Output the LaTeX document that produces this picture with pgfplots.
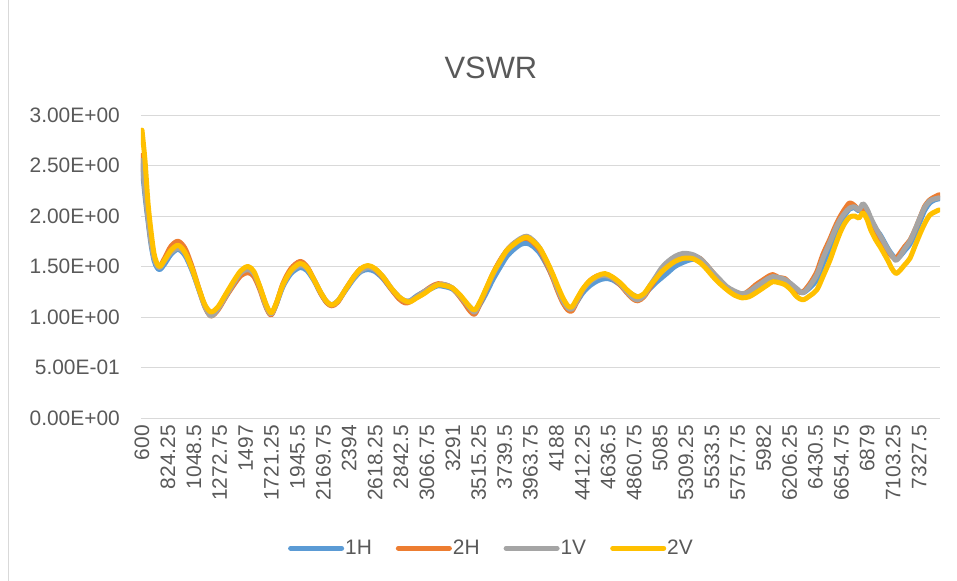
\documentclass[border=0pt]{standalone}
\usepackage{fontspec}
\setmainfont{Liberation Sans}
\usepackage{pgfplots}
\pgfplotsset{compat=1.18}
\definecolor{cA}{RGB}{91,155,213}
\definecolor{cB}{RGB}{237,125,49}
\definecolor{cC}{RGB}{165,165,165}
\definecolor{cD}{RGB}{255,192,0}
\definecolor{gridgray}{RGB}{217,217,217}
\definecolor{textgray}{RGB}{89,89,89}
\begin{document}
\begin{tikzpicture}[x=1bp,y=1bp]
\begin{axis}[
  at={(0,0)}, anchor=south west, scale only axis,
  width=799bp, height=303bp,
  xmin=591.375, xmax=7508.625, ymin=0, ymax=3,
  axis line style={draw=none},
  tick style={draw=none},
  major tick length=0pt,
  ymajorgrids, grid style={draw=gridgray, line width=1bp},
  ytick={0,0.5,1,1.5,2,2.5,3},
  yticklabels={0.00E+00,5.00E-01,1.00E+00,1.50E+00,2.00E+00,2.50E+00,3.00E+00},
  xtick={600,824.25,1048.5,1272.75,1497,1721.25,1945.5,2169.75,2394,2618.25,2842.5,3066.75,3291,3515.25,3739.5,3963.75,4188,4412.25,4636.5,4860.75,5085,5309.25,5533.5,5757.75,5982,6206.25,6430.5,6654.75,6879,7103.25,7327.5},
  xticklabels={600,824.25,1048.5,1272.75,1497,1721.25,1945.5,2169.75,2394,2618.25,2842.5,3066.75,3291,3515.25,3739.5,3963.75,4188,4412.25,4636.5,4860.75,5085,5309.25,5533.5,5757.75,5982,6206.25,6430.5,6654.75,6879,7103.25,7327.5},
  ticklabel style={font=\fontsize{21}{24}\selectfont, text=textgray},
  yticklabel style={anchor=east, inner sep=0pt, xshift=-21bp},
  xticklabel style={anchor=east, inner sep=0pt, yshift=-7bp, rotate=90},
  title={VSWR},
  title style={at={(0.438,1)}, anchor=center, yshift=41bp, font=\fontsize{31}{36}\selectfont, text=textgray},
  legend columns=4,
  legend style={at={(0.438,-0.43)}, anchor=center, draw=none, fill=none,
    font=\fontsize{21}{24}\selectfont, text=textgray,
    /tikz/every even column/.append style={column sep=23bp},
    inner sep=0pt, nodes={inner sep=1bp}},
  legend image code/.code={\draw[#1, line width=5bp, line cap=round] (0bp,0bp) -- (51bp,0bp);},
  every axis plot/.append style={line width=5bp, line join=round, line cap=round, smooth, tension=0.5},
]
\addplot[cA] coordinates {
(600,2.50) (626,2.20) (652,1.95) (678,1.72) (704,1.56) (730,1.49) (756,1.47) (799,1.53) (851,1.62) (912,1.67) (972,1.61) (1033,1.46) (1093,1.27) (1145,1.11) (1197,1.04) (1258,1.09) (1327,1.21) (1396,1.34) (1457,1.43) (1518,1.46) (1569,1.42) (1621,1.29) (1673,1.12) (1717,1.03) (1760,1.12) (1820,1.30) (1890,1.43) (1968,1.49) (2028,1.46) (2089,1.36) (2149,1.23) (2201,1.14) (2245,1.12) (2297,1.16) (2366,1.27) (2435,1.38) (2496,1.45) (2556,1.47) (2617,1.45) (2686,1.38) (2755,1.28) (2825,1.19) (2877,1.16) (2920,1.16) (2980,1.21) (3041,1.25) (3102,1.28) (3162,1.31) (3223,1.30) (3283,1.28) (3344,1.22) (3396,1.15) (3439,1.10) (3482,1.06) (3534,1.14) (3586,1.25) (3638,1.37) (3699,1.49) (3759,1.60) (3820,1.67) (3881,1.72) (3933,1.73) (3985,1.70) (4045,1.63) (4106,1.51) (4158,1.39) (4201,1.27) (4244,1.17) (4287,1.10) (4322,1.09) (4365,1.15) (4417,1.24) (4478,1.31) (4547,1.36) (4608,1.38) (4668,1.37) (4738,1.32) (4798,1.26) (4850,1.22) (4893,1.20) (4945,1.22) (4997,1.28) (5049,1.34) (5101,1.39) (5153,1.44) (5214,1.50) (5283,1.54) (5361,1.57) (5430,1.56) (5491,1.49) (5543,1.42) (5603,1.35) (5664,1.29) (5724,1.24) (5794,1.21) (5854,1.23) (5915,1.28) (5967,1.32) (6019,1.36) (6062,1.39) (6114,1.38) (6166,1.36) (6218,1.31) (6270,1.26) (6322,1.24) (6382,1.29) (6443,1.37) (6495,1.52) (6555,1.68) (6599,1.82) (6642,1.93) (6685,2.01) (6728,2.07) (6772,2.08) (6806,2.05) (6841,2.10) (6876,2.06) (6910,1.96) (6954,1.87) (6988,1.82) (7023,1.75) (7057,1.68) (7092,1.62) (7127,1.58) (7161,1.60) (7205,1.66) (7248,1.72) (7291,1.82) (7334,1.94) (7378,2.06) (7421,2.13) (7464,2.16) (7500,2.17)
};
\addlegendentry{1H}
\addplot[cB] coordinates {
(600,2.60) (626,2.28) (652,2.00) (678,1.76) (704,1.60) (730,1.52) (756,1.50) (799,1.59) (851,1.70) (912,1.75) (972,1.68) (1033,1.50) (1093,1.28) (1145,1.10) (1197,1.01) (1258,1.07) (1327,1.20) (1396,1.32) (1457,1.41) (1518,1.44) (1569,1.40) (1621,1.27) (1673,1.10) (1717,1.02) (1760,1.12) (1820,1.33) (1890,1.48) (1968,1.55) (2028,1.50) (2089,1.37) (2149,1.23) (2201,1.14) (2245,1.11) (2297,1.15) (2366,1.28) (2435,1.40) (2496,1.48) (2556,1.50) (2617,1.47) (2686,1.39) (2755,1.28) (2825,1.18) (2877,1.14) (2920,1.15) (2980,1.20) (3041,1.25) (3102,1.30) (3162,1.33) (3223,1.32) (3283,1.29) (3344,1.21) (3396,1.13) (3439,1.06) (3482,1.03) (3534,1.15) (3586,1.29) (3638,1.43) (3699,1.56) (3759,1.66) (3820,1.73) (3881,1.77) (3933,1.78) (3985,1.74) (4045,1.66) (4106,1.52) (4158,1.38) (4201,1.25) (4244,1.14) (4287,1.07) (4322,1.06) (4365,1.15) (4417,1.27) (4478,1.36) (4547,1.41) (4608,1.42) (4668,1.39) (4738,1.32) (4798,1.24) (4850,1.18) (4893,1.16) (4945,1.20) (4997,1.29) (5049,1.38) (5101,1.46) (5153,1.52) (5214,1.57) (5283,1.61) (5361,1.61) (5430,1.58) (5491,1.51) (5543,1.44) (5603,1.36) (5664,1.29) (5724,1.24) (5794,1.22) (5854,1.26) (5915,1.32) (5967,1.36) (6019,1.40) (6062,1.42) (6114,1.39) (6166,1.38) (6218,1.32) (6270,1.26) (6322,1.25) (6382,1.33) (6443,1.45) (6495,1.62) (6555,1.77) (6599,1.89) (6642,1.99) (6685,2.07) (6728,2.13) (6772,2.10) (6806,2.06) (6841,2.08) (6876,2.02) (6910,1.92) (6954,1.83) (6988,1.77) (7023,1.71) (7057,1.65) (7092,1.60) (7127,1.58) (7161,1.63) (7205,1.70) (7248,1.76) (7291,1.86) (7334,1.98) (7378,2.10) (7421,2.16) (7464,2.19) (7500,2.21)
};
\addlegendentry{2H}
\addplot[cC] coordinates {
(600,2.55) (626,2.25) (652,1.98) (678,1.75) (704,1.59) (730,1.51) (756,1.49) (799,1.56) (851,1.64) (912,1.68) (972,1.63) (1033,1.47) (1093,1.27) (1145,1.10) (1197,1.01) (1258,1.08) (1327,1.21) (1396,1.34) (1457,1.44) (1518,1.47) (1569,1.43) (1621,1.29) (1673,1.11) (1717,1.03) (1760,1.12) (1820,1.31) (1890,1.45) (1968,1.51) (2028,1.48) (2089,1.37) (2149,1.24) (2201,1.15) (2245,1.12) (2297,1.16) (2366,1.28) (2435,1.39) (2496,1.46) (2556,1.49) (2617,1.47) (2686,1.40) (2755,1.29) (2825,1.20) (2877,1.16) (2920,1.16) (2980,1.20) (3041,1.25) (3102,1.29) (3162,1.32) (3223,1.32) (3283,1.29) (3344,1.22) (3396,1.15) (3439,1.09) (3482,1.05) (3534,1.16) (3586,1.29) (3638,1.42) (3699,1.55) (3759,1.66) (3820,1.73) (3881,1.78) (3933,1.80) (3985,1.76) (4045,1.68) (4106,1.54) (4158,1.40) (4201,1.27) (4244,1.16) (4287,1.09) (4322,1.08) (4365,1.16) (4417,1.27) (4478,1.35) (4547,1.40) (4608,1.41) (4668,1.39) (4738,1.33) (4798,1.25) (4850,1.19) (4893,1.17) (4945,1.21) (4997,1.31) (5049,1.40) (5101,1.49) (5153,1.55) (5214,1.60) (5283,1.63) (5361,1.62) (5430,1.58) (5491,1.51) (5543,1.44) (5603,1.37) (5664,1.30) (5724,1.26) (5794,1.23) (5854,1.25) (5915,1.30) (5967,1.34) (6019,1.38) (6062,1.40) (6114,1.39) (6166,1.37) (6218,1.33) (6270,1.28) (6322,1.24) (6382,1.31) (6443,1.42) (6495,1.58) (6555,1.74) (6599,1.86) (6642,1.96) (6685,2.03) (6728,2.08) (6772,2.09) (6806,2.06) (6841,2.12) (6876,2.07) (6910,1.98) (6954,1.88) (6988,1.81) (7023,1.74) (7057,1.67) (7092,1.61) (7127,1.56) (7161,1.60) (7205,1.68) (7248,1.75) (7291,1.86) (7334,1.98) (7378,2.09) (7421,2.15) (7464,2.17) (7500,2.18)
};
\addlegendentry{1V}
\addplot[cD] coordinates {
(600,2.85) (626,2.55) (652,2.13) (678,1.85) (704,1.63) (730,1.53) (756,1.50) (799,1.57) (851,1.66) (912,1.71) (972,1.64) (1033,1.48) (1093,1.28) (1145,1.12) (1197,1.05) (1258,1.10) (1327,1.23) (1396,1.36) (1457,1.46) (1518,1.50) (1569,1.45) (1621,1.30) (1673,1.13) (1717,1.04) (1760,1.13) (1820,1.32) (1890,1.46) (1968,1.53) (2028,1.49) (2089,1.37) (2149,1.24) (2201,1.15) (2245,1.12) (2297,1.16) (2366,1.28) (2435,1.40) (2496,1.48) (2556,1.51) (2617,1.48) (2686,1.40) (2755,1.29) (2825,1.20) (2877,1.16) (2920,1.15) (2980,1.19) (3041,1.23) (3102,1.28) (3162,1.32) (3223,1.31) (3283,1.29) (3344,1.23) (3396,1.16) (3439,1.10) (3482,1.07) (3534,1.17) (3586,1.30) (3638,1.43) (3699,1.55) (3759,1.66) (3820,1.72) (3881,1.77) (3933,1.79) (3985,1.75) (4045,1.68) (4106,1.55) (4158,1.42) (4201,1.30) (4244,1.19) (4287,1.11) (4322,1.10) (4365,1.18) (4417,1.28) (4478,1.36) (4547,1.41) (4608,1.43) (4668,1.40) (4738,1.34) (4798,1.27) (4850,1.22) (4893,1.20) (4945,1.23) (4997,1.31) (5049,1.38) (5101,1.45) (5153,1.50) (5214,1.55) (5283,1.58) (5361,1.58) (5430,1.54) (5491,1.47) (5543,1.40) (5603,1.33) (5664,1.27) (5724,1.22) (5794,1.19) (5854,1.20) (5915,1.24) (5967,1.28) (6019,1.32) (6062,1.35) (6114,1.34) (6166,1.32) (6218,1.27) (6270,1.20) (6322,1.17) (6382,1.21) (6443,1.27) (6495,1.40) (6555,1.56) (6599,1.70) (6642,1.83) (6685,1.93) (6728,1.99) (6772,2.00) (6806,1.98) (6841,2.03) (6876,1.97) (6910,1.86) (6954,1.76) (6988,1.70) (7023,1.63) (7057,1.56) (7092,1.48) (7127,1.43) (7161,1.46) (7205,1.52) (7248,1.58) (7291,1.70) (7334,1.82) (7378,1.93) (7421,2.01) (7464,2.04) (7500,2.06)
};
\addlegendentry{2V}
\end{axis}
\pgfresetboundingbox
\path[use as bounding box] ([shift={(-141bp,-163bp)}]current axis.south west) rectangle ([shift={(816bp,418bp)}]current axis.south west);
\draw[gridgray, line width=1bp] ([shift={(-132.5bp,-163bp)}]current axis.south west) -- ([shift={(-132.5bp,418bp)}]current axis.south west);
\end{tikzpicture}
\end{document}
